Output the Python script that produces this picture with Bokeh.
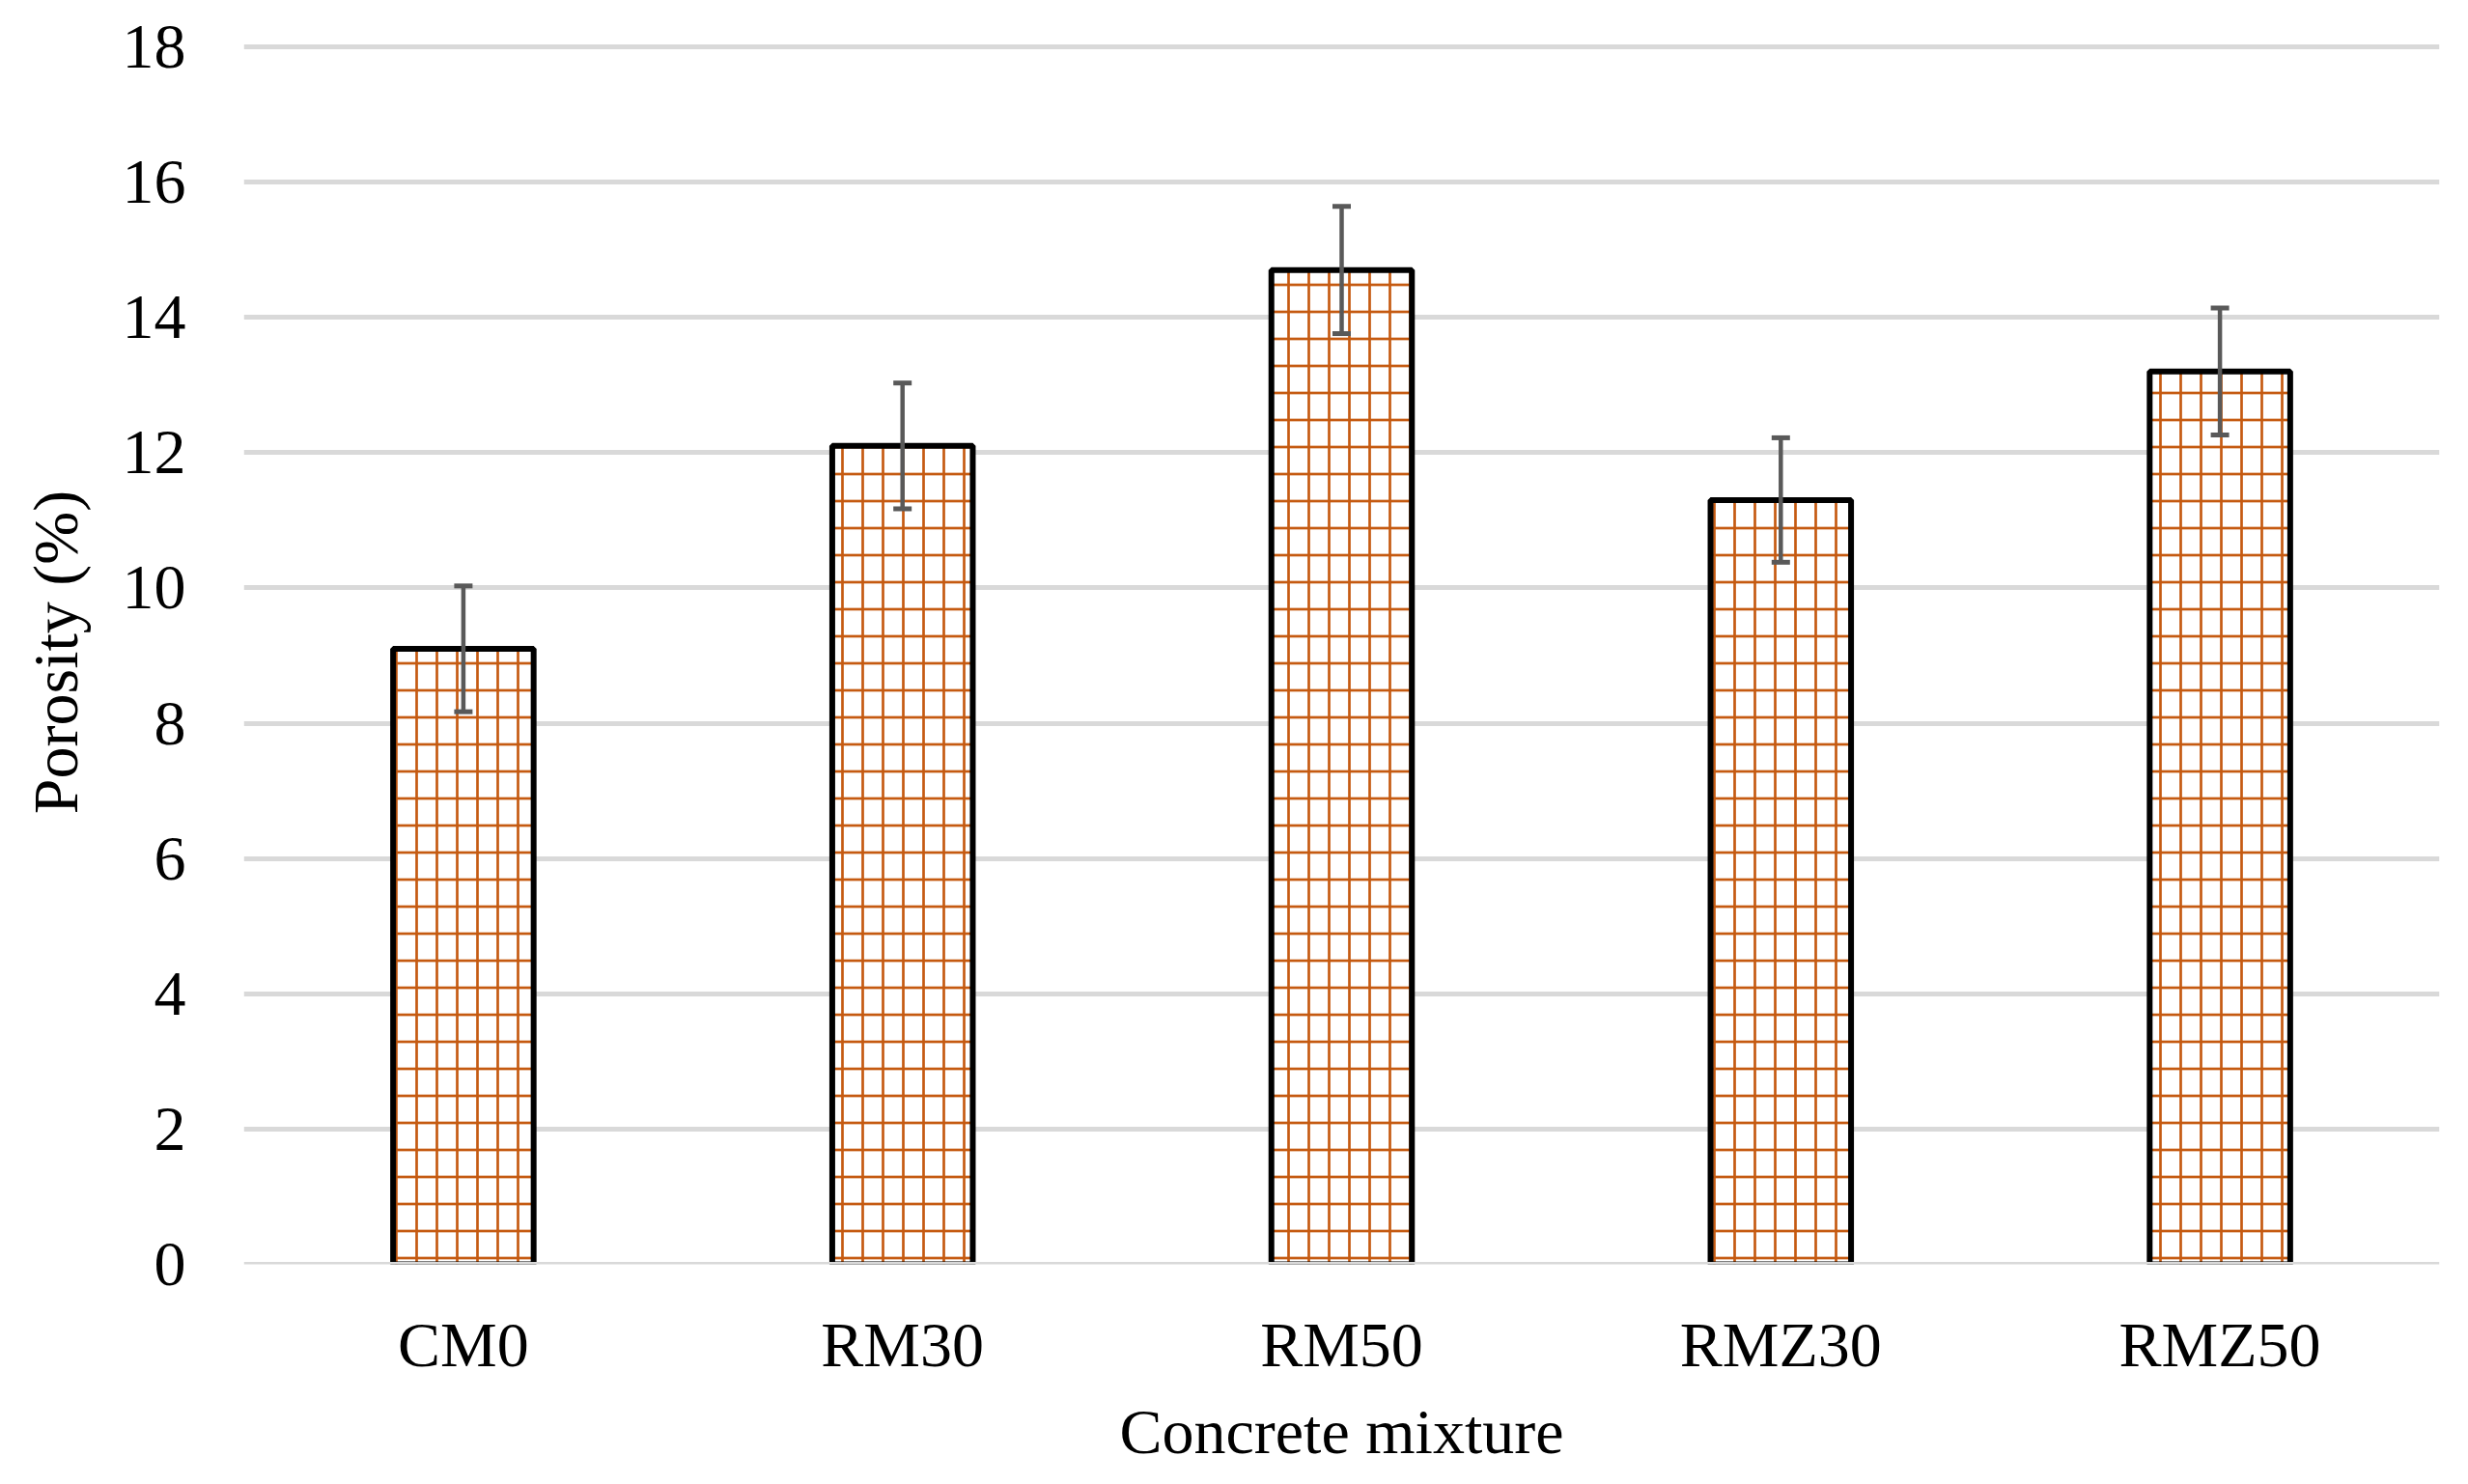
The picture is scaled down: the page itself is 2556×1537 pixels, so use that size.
from bokeh.plotting import figure
from bokeh.models import ColumnDataSource, Whisker, TeeHead, Span, FactorRange
from bokeh.embed import file_html
from bokeh.resources import INLINE

mixtures = ["CM0", "RM30", "RM50", "RMZ30", "RMZ50"]
porosity = [9.1, 12.1, 14.7, 11.3, 13.2]
error = [0.93, 0.93, 0.94, 0.92, 0.94]
y_ticks = [0, 2, 4, 6, 8, 10, 12, 14, 16, 18]

upper = [v + e for v, e in zip(porosity, error)]
lower = [v - e for v, e in zip(porosity, error)]
src = ColumnDataSource(dict(x=mixtures, top=porosity, upper=upper, lower=lower))

FONT = "Liberation Serif"
HATCH = "#C55A11"
GRID = "#D9D9D9"

p = figure(width=2540, height=1521, x_range=FactorRange(*mixtures), y_range=(0, 18.1),
           output_backend="svg", toolbar_location=None,
           min_border_left=252, min_border_right=14, min_border_top=41, min_border_bottom=204)
p.outline_line_color = None
p.background_fill_color = "white"

p.vbar(x="x", top="top", width=0.32, source=src, fill_color="white", line_color=None,
       hatch_pattern="|", hatch_color=HATCH, hatch_scale=21, hatch_weight=2.7)
p.vbar(x="x", top="top", width=0.32, source=src, fill_color=None, line_color=None,
       hatch_pattern="-", hatch_color=HATCH, hatch_scale=28, hatch_weight=2.7)
p.vbar(x="x", top="top", width=0.32, source=src, fill_color=None, line_color="black",
       line_width=6)

p.add_layout(Span(location=0, dimension="width", line_color=GRID, line_width=5, level="overlay"))

w = Whisker(base="x", upper="upper", lower="lower", source=src, level="overlay",
            line_color="#595959", line_width=4.5,
            upper_head=TeeHead(size=19, line_color="#595959", line_width=5),
            lower_head=TeeHead(size=19, line_color="#595959", line_width=5))
p.add_layout(w)

p.xgrid.grid_line_color = None
p.ygrid.grid_line_color = GRID
p.ygrid.grid_line_width = 5
p.yaxis.ticker = y_ticks

for ax in (p.xaxis[0], p.yaxis[0]):
    ax.axis_line_color = None
    ax.major_tick_line_color = None
    ax.minor_tick_line_color = None
    ax.major_tick_out = 0
    ax.major_tick_in = 0
    ax.major_label_text_font = FONT
    ax.major_label_text_font_size = "66px"
    ax.major_label_text_color = "black"
    ax.axis_label_text_font = FONT
    ax.axis_label_text_font_size = "66px"
    ax.axis_label_text_font_style = "normal"
    ax.axis_label_text_color = "black"

p.yaxis.axis_label = "Porosity (%)"
p.xaxis.axis_label = "Concrete mixture"
p.yaxis.major_label_standoff = 60
p.xaxis.major_label_standoff = 46
p.yaxis.axis_label_standoff = 30
p.xaxis.axis_label_standoff = 14

open("out.html", "w").write(file_html(p, INLINE))
